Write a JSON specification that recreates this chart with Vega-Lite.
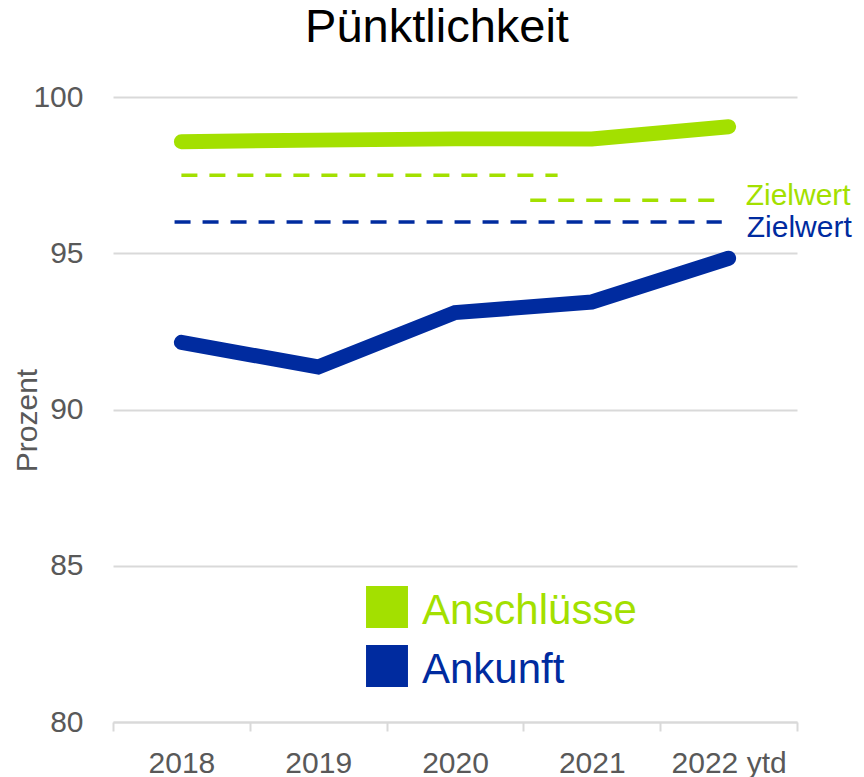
{
  "$schema": "https://vega.github.io/schema/vega-lite/v6.json",
  "width": 684,
  "height": 625,
  "autosize": {"type": "none"},
  "padding": {"left": 113, "top": 97, "right": 67, "bottom": 55},
  "background": "white",
  "title": {"text": "Pünktlichkeit", "fontSize": 47, "font": "Liberation Sans", "fontWeight": "normal", "color": "#000000", "anchor": "middle", "offset": 30, "dx": -18},
  "config": {"view": {"stroke": null}, "font": "Liberation Sans"},
  "datasets": {
    "actual": [
      {"year": "2018", "series": "Anschlüsse", "value": 98.57},
      {"year": "2019", "series": "Anschlüsse", "value": 98.62},
      {"year": "2020", "series": "Anschlüsse", "value": 98.66},
      {"year": "2021", "series": "Anschlüsse", "value": 98.66},
      {"year": "2022 ytd", "series": "Anschlüsse", "value": 99.05},
      {"year": "2018", "series": "Ankunft", "value": 92.15},
      {"year": "2019", "series": "Ankunft", "value": 91.36},
      {"year": "2020", "series": "Ankunft", "value": 93.1},
      {"year": "2021", "series": "Ankunft", "value": 93.44},
      {"year": "2022 ytd", "series": "Ankunft", "value": 94.84}
    ],
    "targets": [
      {"series": "Anschlüsse", "value": 97.5, "start": 0.5, "end": 3.25, "label": ""},
      {"series": "Anschlüsse", "value": 96.7, "start": 3.05, "end": 4.42, "label": "Zielwert"},
      {"series": "Ankunft", "value": 96.0, "start": 0.45, "end": 4.45, "label": "Zielwert"}
    ]
  },
  "layer": [
    {
      "data": {"name": "targets"},
      "mark": {"type": "rule", "strokeDash": [16, 12], "strokeWidth": 3.5},
      "encoding": {
        "x": {"field": "start", "type": "quantitative", "scale": {"domain": [0, 5], "nice": false, "zero": false}, "axis": null},
        "x2": {"field": "end"},
        "y": {"field": "value", "type": "quantitative", "scale": {"domain": [80, 100], "nice": false, "zero": false}},
        "color": {"field": "series", "type": "nominal", "scale": {"domain": ["Anschlüsse", "Ankunft"], "range": ["#a3e000", "#002b9f"]}}
      }
    },
    {
      "data": {"name": "actual"},
      "mark": {"type": "line", "strokeWidth": 15, "strokeCap": "round", "strokeJoin": "miter"},
      "encoding": {
        "x": {
          "field": "year", "type": "ordinal", "bandPosition": 0.5,
          "scale": {"type": "band", "paddingInner": 0, "paddingOuter": 0},
          "axis": {"title": null, "labelFontSize": 30, "labelColor": "#595959", "labelPadding": 17, "tickBand": "extent", "tickSize": 9, "tickWidth": 2, "tickColor": "#d9d9d9", "domainColor": "#d9d9d9", "domainWidth": 2, "grid": false, "labelAngle": 0}
        },
        "y": {
          "field": "value", "type": "quantitative",
          "scale": {"domain": [80, 100], "nice": false, "zero": false},
          "axis": {"values": [80, 85, 90, 95, 100], "labelFontSize": 30, "labelColor": "#595959", "labelPadding": 30, "ticks": false, "domain": false, "gridColor": "#d9d9d9", "gridWidth": 2, "title": "Prozent", "titleFontSize": 30, "titleFontWeight": "normal", "titleColor": "#595959", "titleX": -86, "titleY": 323, "titleAngle": -90, "titleAlign": "center", "titleBaseline": "middle"}
        },
        "color": {
          "field": "series", "type": "nominal",
          "scale": {"domain": ["Anschlüsse", "Ankunft"], "range": ["#a3e000", "#002b9f"]},
          "legend": {
            "orient": "none", "legendX": 253, "legendY": 489, "title": null,
            "symbolType": "square", "symbolSize": 1760, "symbolStrokeWidth": 0,
            "labelFontSize": 42, "labelFont": "Liberation Sans", "labelOffset": 14, "labelLimit": 500, "rowPadding": 13,
            "encode": {
              "symbols": {"update": {"fill": {"signal": "scale('color', datum.value)"}, "stroke": {"value": "transparent"}, "strokeWidth": {"value": 0}}},
              "labels": {"update": {"fill": {"signal": "scale('color', datum.value)"}, "dy": {"value": 4}}}
            }
          }
        }
      }
    },
    {
      "data": {"name": "targets"},
      "transform": [{"filter": "datum.label != '' && datum.series == 'Anschlüsse'"}],
      "mark": {"type": "text", "align": "left", "baseline": "middle", "dx": 28, "dy": -4, "fontSize": 30, "font": "Liberation Sans"},
      "encoding": {
        "x": {"field": "end", "type": "quantitative", "scale": {"domain": [0, 5], "nice": false, "zero": false}, "axis": null},
        "y": {"field": "value", "type": "quantitative"},
        "text": {"field": "label"},
        "color": {"field": "series", "type": "nominal"}
      }
    },
    {
      "data": {"name": "targets"},
      "transform": [{"filter": "datum.label != '' && datum.series == 'Ankunft'"}],
      "mark": {"type": "text", "align": "left", "baseline": "middle", "dx": 25, "dy": 6, "fontSize": 30, "font": "Liberation Sans"},
      "encoding": {
        "x": {"field": "end", "type": "quantitative", "scale": {"domain": [0, 5], "nice": false, "zero": false}, "axis": null},
        "y": {"field": "value", "type": "quantitative"},
        "text": {"field": "label"},
        "color": {"field": "series", "type": "nominal"}
      }
    }
  ],
  "resolve": {"scale": {"x": "independent"}}
}
